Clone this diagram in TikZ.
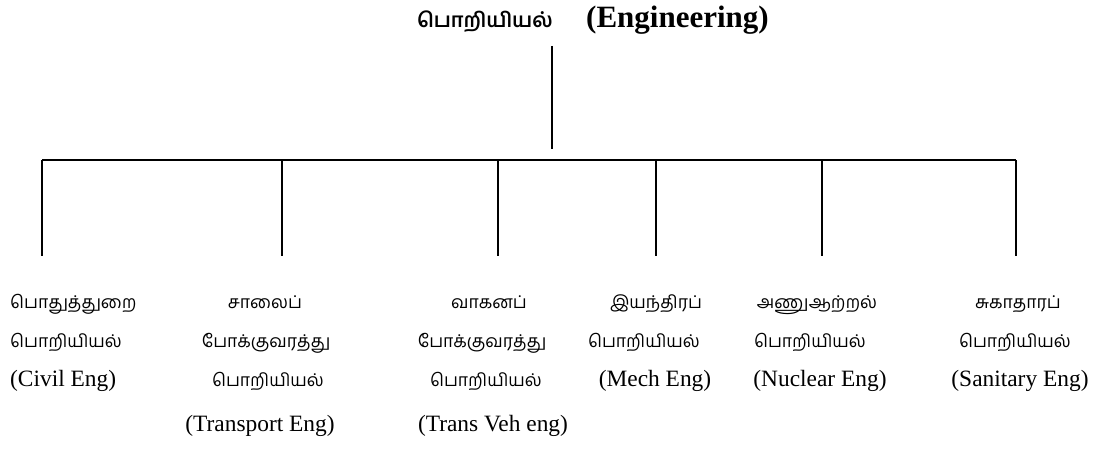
\documentclass[tikz,border=0pt]{standalone}
\usepackage{fontspec}
\setmainfont{Liberation Serif}
\newfontfamily\tamilfont[Script=Tamil]{Hind Madurai}
\begin{document}
\begin{tikzpicture}[x=1pt,y=-1pt,
  link/.style={line width=1.5pt},
  en/.style={anchor=base,inner sep=0pt,font=\fontsize{23.4}{28}\selectfont},
  ta/.style={anchor=base,inner sep=0pt,font=\tamilfont\fontsize{17.6}{22}\selectfont}]
\useasboundingbox (0,0) rectangle (1095,473);

% heading
\node[anchor=base east,inner sep=0pt,font=\tamilfont\bfseries\fontsize{20.4}{26}\selectfont] (titleta) at (553,28) {பொறியியல்};
\node[anchor=base west,inner sep=0pt,font=\bfseries\fontsize{31}{36}\selectfont] (titleen) at (586,28) {(Engineering)};

% stem below the heading
\coordinate (stemtop) at (552,46);
\coordinate (stembot) at (552,149);
\draw[link] (stemtop) -- (stembot);

% bar and branches
\foreach \i/\x in {1/42,2/282,3/498,4/656,5/822,6/1016}{
  \coordinate (b\i) at (\x,160);
  \coordinate (e\i) at (\x,256);
}
\draw[link] (b1) -- (b6);
\foreach \i in {1,...,6}{ \draw[link] (b\i) -- (e\i); }

% branch 1
\node[ta,anchor=base west] (c1a) at (10,308) {பொதுத்துறை};
\node[ta,anchor=base west] (c1b) at (10,347) {பொறியியல்};
\node[en,anchor=base west] (c1c) at (10,386) {(Civil Eng)};
% branch 2
\node[ta] (c2a) at (265,308) {சாலைப்};
\node[ta] (c2b) at (266,347) {போக்குவரத்து};
\node[ta] (c2c) at (268,386) {பொறியியல்};
\node[en] (c2d) at (260,431) {(Transport Eng)};
% branch 3
\node[ta] (c3a) at (489,308) {வாகனப்};
\node[ta] (c3b) at (482,347) {போக்குவரத்து};
\node[ta] (c3c) at (486,386) {பொறியியல்};
\node[en] (c3d) at (493,431) {(Trans Veh eng)};
% branch 4
\node[ta] (c4a) at (656,308) {இயந்திரப்};
\node[ta] (c4b) at (644,347) {பொறியியல்};
\node[en] (c4c) at (655,386) {(Mech Eng)};
% branch 5
\node[ta] (c5a) at (817,308) {அணுஆற்றல்};
\node[ta] (c5b) at (810,347) {பொறியியல்};
\node[en] (c5c) at (820,386) {(Nuclear Eng)};
% branch 6
\node[ta] (c6a) at (1018,308) {சுகாதாரப்};
\node[ta] (c6b) at (1015,347) {பொறியியல்};
\node[en] (c6c) at (1020,386) {(Sanitary Eng)};
\end{tikzpicture}
\end{document}
